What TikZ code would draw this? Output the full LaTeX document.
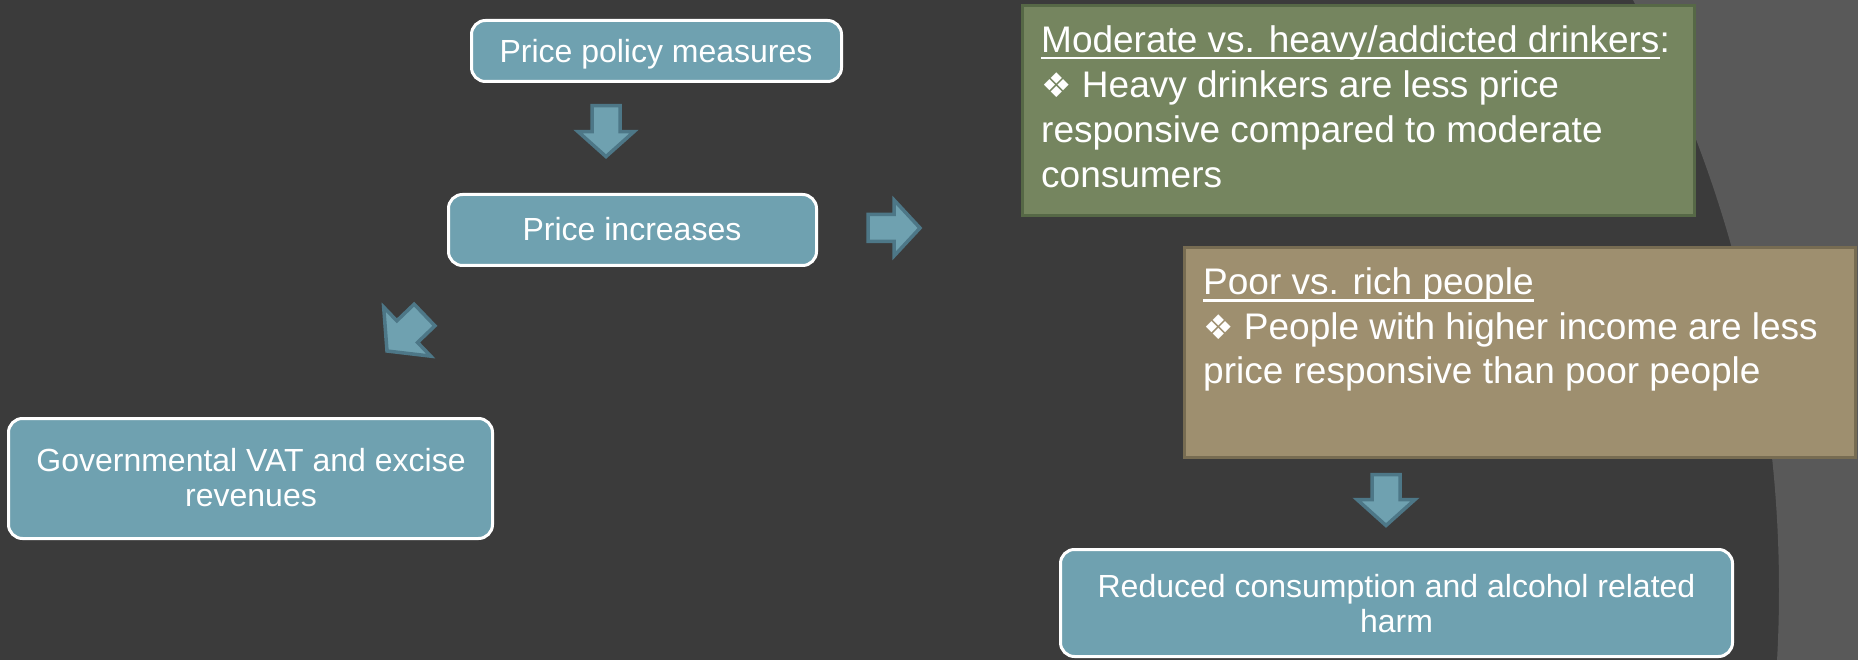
\documentclass[tikz,border=0pt]{standalone}
\usepackage{fontspec}
\setmainfont{Liberation Sans}
\newfontfamily\dingfont{DejaVu Sans}

\definecolor{bgdark}{HTML}{3B3B3B}
\definecolor{bglight}{HTML}{595959}
\definecolor{boxblue}{HTML}{6FA1B0}
\definecolor{arrowedge}{HTML}{4D7787}
\definecolor{boxgreen}{HTML}{75855F}
\definecolor{edgegreen}{HTML}{566846}
\definecolor{boxtan}{HTML}{9E8F6F}
\definecolor{edgetan}{HTML}{776C52}

% underline at a fixed depth below the baseline
\newsavebox\ulinebox
\newcommand\ulinetext[1]{\sbox\ulinebox{#1}\rlap{\rule[-7pt]{\wd\ulinebox}{2.5pt}}\usebox\ulinebox}
% bullet sign of the two list boxes
\newcommand\dia{{\dingfont\fontsize{34}{34}\selectfont ❖}}
% invisible strut that fixes the top of a text block
\newcommand\firststrut{\rule{0pt}{30pt}}

% block arrow: tip, rotation, total length, head length, shaft half width, head half width
\newcommand\blockarrow[6]{%
  \begin{scope}[shift={#1}, rotate=#2]
    \draw[blockarrowstyle] (0,0) -- (-#4,#6) -- (-#4,#5) -- (-#3,#5) -- (-#3,-#5)
      -- (-#4,-#5) -- (-#4,-#6) -- cycle;
  \end{scope}}

\begin{document}
\begin{tikzpicture}[x=1pt,y=-1pt,
  bluebox/.style={rectangle, draw=white, line width=3pt, fill=boxblue,
    rounded corners=14pt, inner sep=0pt},
  greenbox/.style={rectangle, draw=edgegreen, line width=3pt, fill=boxgreen, inner sep=0pt},
  tanbox/.style={rectangle, draw=edgetan, line width=3pt, fill=boxtan, inner sep=0pt},
  bluetext/.style={text=white, inner sep=0pt, align=center,
    font=\fontsize{32}{35}\selectfont},
  listtext/.style={text=white, inner sep=0pt, align=left, anchor=north west},
  blockarrowstyle/.style={fill=boxblue, draw=arrowedge, line width=3.5pt, line join=miter}]

\useasboundingbox (0,0) rectangle (1858,660);

% background with the lighter curved panel on the right
\fill[bgdark] (0,0) rectangle (1858,660);
\fill[bglight] (1633,0) arc[start angle=-27.8, end angle=3.2, radius=1265]
  -- (1858,660) -- (1858,0) -- cycle;

% rounded boxes
\node[bluebox, minimum width=370, minimum height=61] (policy) at (656.5,51) {};
\node[bluetext, anchor=base] (policyText) at (656,63) {Price policy measures};

\node[bluebox, minimum width=368, minimum height=71] (increase) at (632.5,230) {};
\node[bluetext, anchor=base] (increaseText) at (632,241) {Price increases};

\node[bluebox, minimum width=484, minimum height=120] (revenue) at (250.5,478.5) {};
\node[bluetext, anchor=north] (revenueText) at (251,441)
  {\firststrut Governmental VAT and excise\\revenues};

\node[bluebox, minimum width=672, minimum height=107] (reduced) at (1396.5,603) {};
\node[bluetext, anchor=north] (reducedText) at (1396.5,567)
  {\firststrut Reduced consumption and alcohol related\\harm};

% list boxes
\node[greenbox, minimum width=672, minimum height=210] (drinkers) at (1358.5,110.5) {};
\node[listtext, font=\fontsize{37}{45}\selectfont] (drinkersText) at (1041,22)
  {\firststrut\ulinetext{Moderate vs. heavy/addicted drinkers}:\\
   \dia\ Heavy drinkers are less price\\
   responsive compared to moderate\\
   consumers};

\node[tanbox, minimum width=671, minimum height=210] (income) at (1520,352.5) {};
\node[listtext, font=\fontsize{37}{44.5}\selectfont] (incomeText) at (1203,264.5)
  {\firststrut\ulinetext{Poor vs. rich people}\\
   \dia\ People with higher income are less\\
   price responsive than poor people};

% block arrows
\blockarrow{(606,156.6)}{-90}{51}{25}{14}{28}
\blockarrow{(920,228)}{0}{52}{26}{13.5}{28}
\blockarrow{(387,351)}{-136.2}{52}{28}{15}{34}
\blockarrow{(1386,525.5)}{-90}{51}{26}{14}{29}

\end{tikzpicture}
\end{document}
